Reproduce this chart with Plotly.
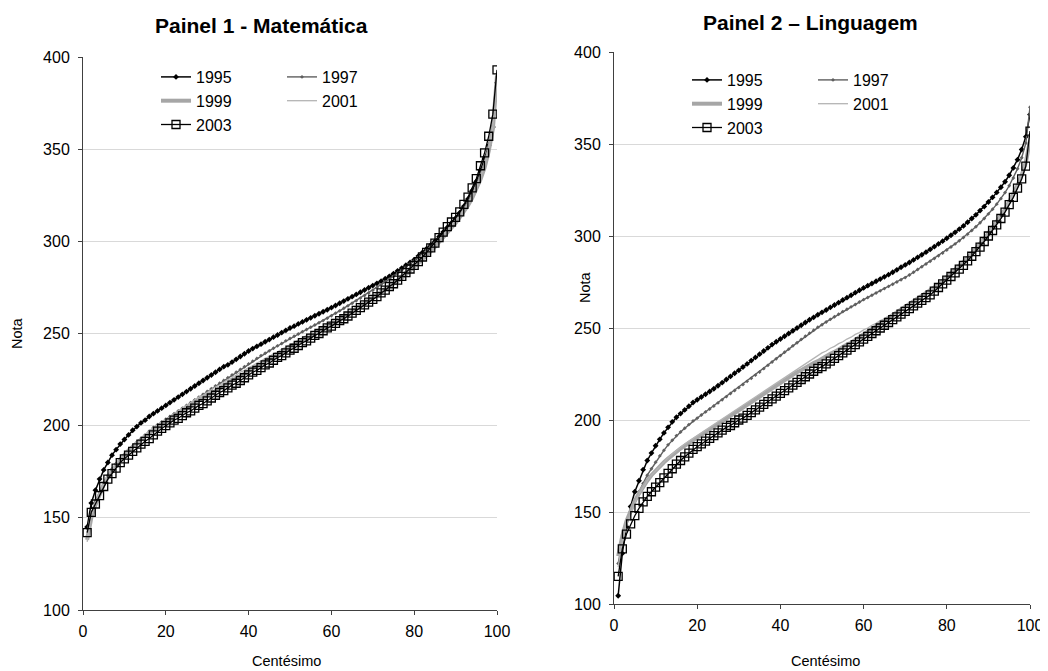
import plotly.graph_objects as go

cent = list(range(1, 101))

# ---------------- Painel 1 - Matemática ----------------
mat_1995 = [145, 158, 165, 171, 176, 180, 184, 187, 190, 192.5,
            195, 197.5, 199.5, 201.5, 203, 205, 206.5, 208, 209.5, 211,
            212.5, 214, 215.5, 217, 218.5, 220, 221.5, 223, 224.5, 226,
            227.5, 229, 230.5, 232, 233, 234.5, 236, 237.5, 239, 240.5,
            241.8, 243, 244.2, 245.5, 246.7, 248, 249.2, 250.5, 251.7, 253,
            254, 255.2, 256.3, 257.4, 258.5, 259.6, 260.7, 261.8, 262.9, 264,
            265.2, 266.4, 267.6, 268.8, 270, 271.2, 272.4, 273.6, 274.8, 276,
            277.2, 278.4, 279.7, 281, 282.5, 284, 285.5, 287, 288.5, 290,
            292, 294, 296, 298, 300, 302.5, 305, 307.5, 310, 312.5,
            315.5, 319, 323, 327.5, 332.5, 338.5, 345, 352, 362, 386]

mat_1997 = [140, 152, 159, 164, 169, 173, 176.5, 179.5, 182, 184.5,
            187, 189, 191, 193, 195, 197, 199, 200.5, 202, 203.5,
            205, 206.5, 208, 209.5, 211, 212.5, 214, 215.5, 217, 218.5,
            220, 221.5, 223, 224.5, 226, 227.5, 229, 230.5, 232, 233.5,
            235, 236.5, 238, 239.3, 240.6, 242, 243.3, 244.6, 246, 247.3,
            248.5, 249.7, 251, 252.2, 253.4, 254.6, 255.8, 257, 258.3, 259.6,
            261, 262.3, 263.7, 265, 266.4, 267.8, 269.2, 270.6, 272, 273.4,
            274.9, 276.4, 278, 279.5, 281, 282.7, 284.4, 286.1, 287.8, 289.5,
            291.4, 293.3, 295.3, 297.3, 299.4, 301.6, 304, 306.5, 309, 311.5,
            314.5, 318, 321.5, 325.5, 330, 336, 343, 351, 362, 385]

mat_1999 = [138, 150, 157, 163, 168, 172, 175.5, 178.5, 181.5, 184,
            186.5, 188.5, 190.5, 192.5, 194, 196, 197.5, 199, 200.5, 202,
            203.5, 205, 206.5, 208, 209.5, 211, 212.5, 213.5, 215, 216.5,
            217.5, 219, 220.5, 221.5, 223, 224.5, 225.5, 227, 228.5, 229.5,
            231, 232, 233.5, 234.5, 236, 237, 238.5, 239.5, 241, 242,
            243.5, 244.5, 246, 247, 248.5, 249.5, 251, 252, 253.5, 254.5,
            256, 257, 258.5, 260, 261.5, 263, 264.5, 266, 267.5, 269,
            270.5, 272, 273.5, 275, 276.5, 278, 280, 282, 284, 286,
            288, 290, 292, 294.5, 297, 299.5, 302, 304.5, 307, 310,
            313, 316, 319.5, 323.5, 328, 333.5, 340, 349, 361, 390]

mat_2001 = [137, 151, 158, 164, 169, 173, 176.5, 179.5, 182.5, 185,
            187.5, 189.5, 191.5, 193.5, 195.5, 197.5, 199, 200.5, 202, 203.5,
            205, 206.5, 208, 209.5, 211, 212.5, 214, 215.5, 216.5, 218,
            219.5, 221, 222, 223.5, 225, 226, 227.5, 229, 230, 231.5,
            232.5, 234, 235, 236.5, 237.5, 239, 240, 241.5, 242.5, 244,
            245, 246.5, 247.5, 249, 250, 251.5, 252.5, 254, 255, 256.5,
            257.5, 259, 260.5, 261.5, 263, 264.5, 266, 267.5, 269, 270.5,
            272, 273.5, 275, 276.5, 278, 280, 282, 284, 286, 288,
            290, 292, 294, 296, 298.5, 301, 303.5, 306, 308.5, 311,
            314, 317, 320.5, 324.5, 329, 334.5, 341, 350, 362, 388]

mat_2003 = [142, 153, 157.5, 162, 167, 171, 174, 177, 180, 182,
            184, 186, 188, 190, 191.5, 193, 195, 197, 198.5, 200,
            201.5, 203, 204, 205.5, 207, 208, 209.5, 211, 212, 213.5,
            215, 216.5, 218, 219, 220.5, 222, 223, 224.5, 226, 227.5,
            229, 230, 231.5, 233, 234, 235.5, 237, 238, 239.5, 241,
            242, 243.5, 245, 246, 247.5, 249, 250, 251.5, 253, 254,
            255.5, 257, 258, 259.5, 261, 262.5, 264, 265.5, 267, 268.5,
            270, 272, 273.5, 275.5, 277, 279, 281, 283, 285, 287,
            289, 291.5, 294, 296.5, 299, 302, 305, 308, 310.5, 313,
            316, 320, 324, 329, 334, 341, 348, 357, 369, 393]

# ---------------- Painel 2 - Linguagem ----------------
lin_1995 = [104.5, 127.5, 142, 153, 161, 167, 173, 178, 182, 186,
            189.5, 193, 196, 199, 201.5, 203.5, 205.5, 207.5, 209.5, 211,
            212.5, 214, 215.5, 217, 218.6, 220.3, 222, 223.7, 225.4, 227,
            228.8, 230.5, 232.3, 234, 235.8, 237.5, 239.2, 241, 242.5, 244,
            245.5, 247, 248.5, 250, 251.5, 253, 254.5, 255.8, 257.2, 258.5,
            259.8, 261.2, 262.5, 263.8, 265.2, 266.5, 267.8, 269.2, 270.5, 271.8,
            273, 274.2, 275.4, 276.6, 277.8, 279, 280.3, 281.6, 283, 284.3,
            285.6, 287, 288.4, 289.8, 291.2, 292.7, 294.2, 295.7, 297.2, 298.8,
            300.4, 302, 303.7, 305.5, 307.5, 309.5, 311.5, 313.8, 316, 318.5,
            321, 323.7, 326.5, 329.5, 333, 337, 341.5, 347, 354, 366]

lin_1997 = [122, 134, 143, 150, 156, 161, 165.5, 170, 173.5, 177,
            180.5, 183.5, 186.5, 189, 191.5, 193.5, 195.5, 197.5, 199.5, 201,
            202.7, 204.4, 206, 207.6, 209.3, 211, 212.7, 214.4, 216, 217.6,
            219.3, 221, 222.7, 224.4, 226.1, 227.9, 229.7, 231.5, 233.3, 235,
            236.8, 238.5, 240.3, 242, 243.8, 245.5, 247.2, 248.8, 250.4, 251.8,
            253.3, 254.7, 256.1, 257.5, 258.9, 260.2, 261.5, 262.8, 264.1, 265.4,
            266.6, 267.8, 269, 270.2, 271.4, 272.6, 273.8, 275, 276.2, 277.4,
            278.8, 280.3, 281.8, 283.3, 284.8, 286.3, 287.8, 289.3, 290.8, 292.4,
            294, 295.7, 297.4, 299.2, 301, 303, 305, 307.2, 309.5, 312,
            314.5, 317.3, 320.3, 323.6, 327.3, 331.5, 336.5, 342.5, 350.5, 370]

lin_1999 = [126, 137, 145, 151, 156, 160, 164, 167, 170, 172.5,
            175, 177, 179, 181, 183, 184.5, 186, 187.5, 189, 190.5,
            192, 193.5, 195, 196.5, 198, 199.5, 201, 202.5, 204, 205.5,
            207, 208.5, 210, 211.5, 213, 214.5, 216, 217.5, 219, 220.5,
            222, 223.5, 224.5, 226, 227, 228.5, 229.5, 231, 232, 233.5,
            234.5, 236, 237, 238.5, 239.5, 241, 242, 243.5, 244.5, 246,
            247.5, 249, 250.5, 252, 253.5, 255, 256.5, 258, 259.5, 261,
            262.5, 264, 265.5, 267, 268.5, 270, 271.5, 273.5, 275.5, 277.5,
            279.5, 281.5, 283.5, 285.5, 288, 290.5, 293, 295.5, 298.5, 301.5,
            304.5, 307.5, 311, 314.5, 318.5, 322.5, 327.5, 333, 340, 352]

lin_2001 = [120, 134, 143, 149.5, 155, 159.5, 163.5, 167, 170, 172.5,
            175, 177.5, 179.5, 181.5, 183.5, 185.5, 187, 188.5, 190, 191.5,
            193, 194.5, 196, 197.5, 199, 200.5, 202, 203.5, 205, 206.5,
            208, 209.5, 211, 212.5, 214, 215.5, 217, 218.5, 220, 221.5,
            223, 224.5, 226, 227.5, 229, 230.5, 232, 233.5, 235, 236.5,
            237.5, 239, 240, 241.5, 242.5, 244, 245, 246.5, 247.5, 249,
            250, 251.5, 252.5, 254, 255, 256.5, 257.5, 259, 260, 261.5,
            263, 264.5, 266, 267.5, 269, 270.5, 272, 274, 276, 278,
            280, 282, 284, 286, 288.5, 291, 293.5, 296, 299, 302,
            305, 308, 311.5, 315, 319, 323, 328, 334, 342, 355]

lin_2003 = [115, 130, 138, 143.5, 148, 152, 155.5, 158.5, 161, 163.5,
            166, 168.5, 171, 173.5, 176, 178, 180, 182, 184, 185.5,
            187, 188.5, 190, 191.5, 193, 194.5, 196, 197, 198.5, 200,
            201, 202.5, 204, 205.5, 207, 208.5, 210, 211.5, 213, 214.5,
            216, 217.5, 219, 220.5, 222, 223.5, 225, 226.5, 228, 229,
            230.5, 232, 233.5, 235, 236.5, 238, 239.5, 241, 242.5, 244,
            245.5, 247, 248.5, 250, 251.5, 253, 254.5, 256, 257.5, 259,
            260.5, 262, 263.5, 265, 266.5, 268, 270, 272, 274, 276,
            278, 280, 282, 284, 286.5, 289, 291.5, 294, 297, 300,
            303, 306, 309.5, 313, 317, 321, 326, 331, 338, 357]

years = ["1995", "1997", "1999", "2001", "2003"]
x_ticks = [0, 20, 40, 60, 80, 100]
y_ticks = [100, 150, 200, 250, 300, 350, 400]

styles = {
    "1995": dict(mode="lines+markers", line=dict(color="#000000", width=1.5),
                 marker=dict(symbol="diamond", size=4.5, color="#000000")),
    "1997": dict(mode="lines+markers", line=dict(color="#5f5f5f", width=1.4),
                 marker=dict(symbol="diamond", size=3, color="#5f5f5f")),
    "1999": dict(mode="lines", line=dict(color="#a6a6a6", width=4)),
    "2001": dict(mode="lines", line=dict(color="#b4b4b4", width=1.3)),
    "2003": dict(mode="lines+markers", line=dict(color="#000000", width=1.3),
                 marker=dict(symbol="square-open", size=8, color="#000000",
                             line=dict(width=1.3, color="#000000"))),
}

panel1 = dict(zip(years, [mat_1995, mat_1997, mat_1999, mat_2001, mat_2003]))
panel2 = dict(zip(years, [lin_1995, lin_1997, lin_1999, lin_2001, lin_2003]))

leg_p1 = {"1995": "legend", "1999": "legend", "2003": "legend",
          "1997": "legend2", "2001": "legend2"}
leg_p2 = {"1995": "legend3", "1999": "legend3", "2003": "legend3",
          "1997": "legend4", "2001": "legend4"}

fig = go.Figure()
for y in years:
    fig.add_trace(go.Scatter(x=cent, y=panel1[y], name=y, xaxis="x", yaxis="y",
                             legend=leg_p1[y], **styles[y]))
for y in years:
    fig.add_trace(go.Scatter(x=cent, y=panel2[y], name=y, xaxis="x2", yaxis="y2",
                             legend=leg_p2[y], **styles[y]))

# The page body has an 8px default margin: the figure is drawn from (8, 8).
OFF = 8
W, H = 1048 - OFF, 671 - OFF
font_family = "Liberation Sans, Arial, sans-serif"
axis_common = dict(showline=True, linecolor="#404040", linewidth=1,
                   ticks="outside", ticklen=4, tickcolor="#404040", automargin=False,
                   tickfont=dict(size=16, color="#000000"), zeroline=False)
xaxis_common = dict(ticklabelstandoff=3, **axis_common)
yaxis_common = dict(ticklabelstandoff=5, **axis_common)

def px_x(p):
    return (p - OFF) / W

def px_y(p):
    return 1 - (p - OFF) / H

legend_common = dict(font=dict(size=16, color="#000000"), bgcolor="rgba(0,0,0,0)",
                     orientation="v", xanchor="left", yanchor="top",
                     tracegroupgap=0, itemwidth=30)

fig.update_layout(
    width=W, height=H,
    margin=dict(l=0, r=0, t=0, b=0, autoexpand=False),
    paper_bgcolor="white", plot_bgcolor="white",
    font=dict(family=font_family, size=16, color="#000000"),
    xaxis=dict(domain=[px_x(83), px_x(497)], range=[0, 100], tickvals=x_ticks,
               showgrid=False, anchor="y", **xaxis_common),
    yaxis=dict(domain=[px_y(610), px_y(57)], range=[100, 400], tickvals=y_ticks,
               showgrid=True, gridcolor="#d9d9d9", gridwidth=1, anchor="x",
               **yaxis_common),
    xaxis2=dict(domain=[px_x(614), px_x(1030)], range=[0, 100], tickvals=x_ticks,
                showgrid=False, anchor="y2", **xaxis_common),
    yaxis2=dict(domain=[px_y(604), px_y(52)], range=[100, 400], tickvals=y_ticks,
                showgrid=True, gridcolor="#d9d9d9", gridwidth=1, anchor="x2",
                **yaxis_common),
    legend=dict(x=px_x(156), y=px_y(60), **legend_common),
    legend2=dict(x=px_x(282), y=px_y(60), **legend_common),
    legend3=dict(x=px_x(687), y=px_y(63), **legend_common),
    legend4=dict(x=px_x(813), y=px_y(63), **legend_common),
    showlegend=True,
)

annots = [
    dict(text="<b>Painel 1 - Matemática</b>", x=px_x(261), y=px_y(25), size=21),
    dict(text="<b>Painel 2 – Linguagem</b>", x=px_x(810), y=px_y(22), size=21),
    dict(text="Centésimo", x=px_x(286), y=px_y(661), size=14.5),
    dict(text="Centésimo", x=px_x(825), y=px_y(661), size=14.5),
]
for a in annots:
    fig.add_annotation(text=a["text"], x=a["x"], y=a["y"], xref="paper", yref="paper",
                       showarrow=False, xanchor="center", yanchor="middle",
                       font=dict(size=a["size"], color="#000000"))
for xx, yy in [(17, 333), (585, 287)]:
    fig.add_annotation(text="Nota", x=px_x(xx), y=px_y(yy), xref="paper", yref="paper",
                       showarrow=False, textangle=-90, xanchor="center", yanchor="middle",
                       font=dict(size=14.5, color="#000000"))

fig.write_html("out.html")
